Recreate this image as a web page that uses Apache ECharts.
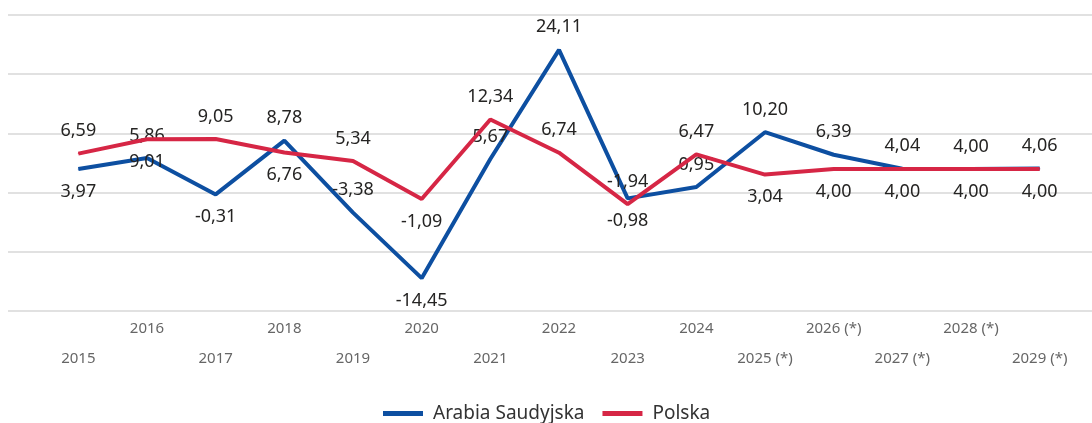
<!DOCTYPE html>
<html>
<head>
<meta charset="utf-8">
<script src="https://cdn.jsdelivr.net/npm/echarts@6/dist/echarts.min.js"></script>
<style>
  html, body { margin: 0; padding: 0; background: #fff; }
  #chart { width: 1092px; height: 423px; }
</style>
</head>
<body>
<div id="chart"></div>
<script>
var years = ['2015', '2016', '2017', '2018', '2019', '2020', '2021', '2022', '2023', '2024',
    '2025 (*)', '2026 (*)', '2027 (*)', '2028 (*)', '2029 (*)'];

// Arabia Saudyjska
var saudiValues = [3.97, 5.86, -0.31, 8.78, -3.38, -14.45, 5.67, 24.11, -0.98, 0.95, 10.20, 6.39, 4.04, 4.00, 4.06];
// Polska
var polandValues = [6.59, 9.01, 9.05, 6.76, 5.34, -1.09, 12.34, 6.74, -1.94, 6.47, 3.04, 4.00, 4.00, 4.00, 4.00];

// gdzie stoi etykieta (nad / pod punktem)
var saudiLabelPos = ['bottom', 'top', 'bottom', 'top', 'top', 'bottom', 'top', 'top', 'bottom', 'top', 'top', 'top', 'top', 'top', 'top'];
var polandLabelPos = ['top', 'bottom', 'top', 'bottom', 'top', 'bottom', 'top', 'top', 'top', 'top', 'bottom', 'bottom', 'bottom', 'bottom', 'bottom'];

var blue = '#0d4fa1';
var red = '#d62645';

function fmt(v) {
    return v.toFixed(2).replace('.', ',');
}

function buildData(values, positions) {
    var out = [];
    for (var i = 0; i < values.length; i++) {
        out.push({value: values[i], label: {position: positions[i]}});
    }
    return out;
}

var chart = echarts.init(document.getElementById('chart'), null, {renderer: 'canvas'});

var labelStyle = {
    show: true,
    distance: 13,
    fontFamily: 'Noto Sans',
    fontSize: 18,
    color: '#252423',
    formatter: function (p) {
        return fmt(p.value);
    }
};

var option = {
    animation: false,
    grid: [
        // tylko linie siatki na całą szerokość
        {left: 8, right: 0, top: 15, height: 296},
        {left: 44, right: 18, top: 15, height: 296}
    ],
    legend: {
        data: ['Arabia Saudyjska', 'Polska'],
        left: 378,
        top: 399,
        icon: 'rect',
        itemWidth: 40,
        itemHeight: 5,
        itemGap: 18,
        textStyle: {
            fontFamily: 'Noto Sans',
            fontSize: 19,
            color: '#333333',
            padding: [0, 0, 0, 5]
        }
    },
    xAxis: [
        {gridIndex: 0, type: 'value', min: 0, max: 1, show: false},
        {
            gridIndex: 1,
            type: 'category',
            data: years,
            boundaryGap: true,
            axisLine: {show: false},
            axisTick: {show: false},
            axisLabel: {
                interval: 0,
                margin: 3,
                fontFamily: 'Noto Sans',
                fontSize: 15,
                color: '#666666',
                lineHeight: 30,
                formatter: function (value, idx) {
                    return idx % 2 === 0 ? '\n' + value : value + '\n';
                }
            }
        }
    ],
    yAxis: [
        {
            gridIndex: 0,
            type: 'value',
            min: -20,
            max: 30,
            interval: 10,
            axisLabel: {show: false},
            axisLine: {show: false},
            axisTick: {show: false},
            splitLine: {lineStyle: {color: '#e1e1e1', width: 2}}
        },
        {
            gridIndex: 1,
            type: 'value',
            min: -20,
            max: 30,
            interval: 10,
            axisLabel: {show: false},
            axisLine: {show: false},
            axisTick: {show: false},
            splitLine: {show: false}
        }
    ],
    series: [
        {
            name: 'Arabia Saudyjska',
            type: 'line',
            xAxisIndex: 1,
            yAxisIndex: 1,
            data: buildData(saudiValues, saudiLabelPos),
            symbol: 'circle',
            symbolSize: 1,
            lineStyle: {color: blue, width: 4},
            itemStyle: {color: blue},
            label: labelStyle,
            z: 3
        },
        {
            name: 'Polska',
            type: 'line',
            xAxisIndex: 1,
            yAxisIndex: 1,
            data: buildData(polandValues, polandLabelPos),
            symbol: 'circle',
            symbolSize: 1,
            lineStyle: {color: red, width: 4},
            itemStyle: {color: red},
            label: labelStyle,
            z: 4
        }
    ]
};

chart.setOption(option);
</script>
</body>
</html>
